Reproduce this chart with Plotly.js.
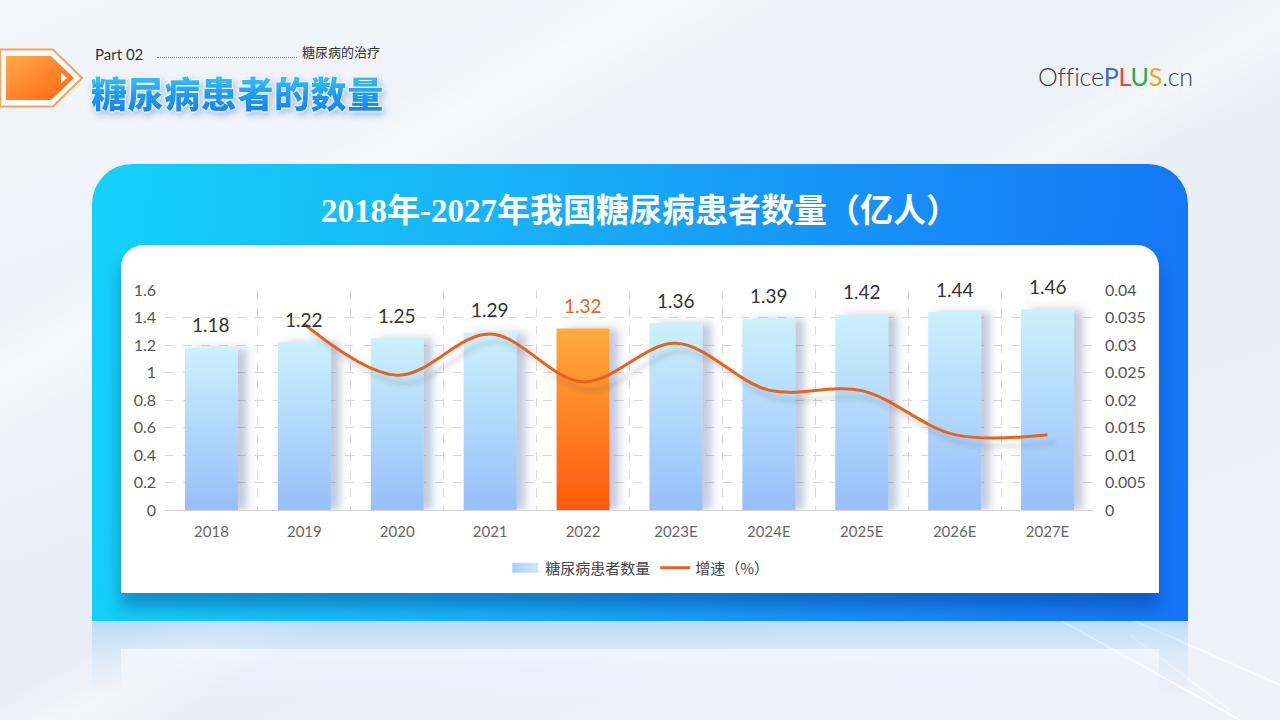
<!DOCTYPE html>
<html><head><meta charset="utf-8">
<script src="https://cdn.plot.ly/plotly-3.0.1.min.js"></script>
<style>
html,body{margin:0;padding:0;width:1280px;height:720px;overflow:hidden;}
body{position:relative;font-family:"Noto Sans CJK SC",sans-serif;
 background:
  linear-gradient(150deg, rgba(255,255,255,0) 0%, rgba(255,255,255,0) 22%, rgba(255,255,255,.55) 26%, rgba(255,255,255,0) 31%),
  linear-gradient(150deg, rgba(255,255,255,0) 0%, rgba(255,255,255,0) 48%, rgba(255,255,255,.45) 52%, rgba(255,255,255,0) 56%),
  linear-gradient(160deg, #f4f6fb 0%, #e9eef6 55%, #eef2f9 100%);}
.abs{position:absolute;}
#partTxt{left:95px;top:45px;font-family:Lato,"Noto Sans",sans-serif;font-size:15px;line-height:18px;color:#333;}
#dots{left:157px;top:57px;width:140px;border-top:1px dotted #8a8a8a;height:0;}
#subTxt{left:302px;top:44px;font-size:13px;line-height:16px;color:#333;}
#bigTitle{left:91px;top:72px;font-size:36px;font-weight:900;letter-spacing:0.6px;line-height:40px;
 background:linear-gradient(180deg,#3fcbfa 0%,#1f9cf2 55%,#1a82ec 100%);-webkit-background-clip:text;background-clip:text;color:transparent;
 filter:drop-shadow(0 0 1px #fff) drop-shadow(0 0 1px #fff) drop-shadow(2px 3px 3px rgba(20,90,170,.35));}
#logo{left:1038px;top:61px;font-family:Lato,"Noto Sans",sans-serif;font-size:25px;font-weight:300;color:#3c3c3c;letter-spacing:-0.2px;}
#blueCard{left:92px;top:164px;width:1096px;height:457px;border-radius:40px 40px 0 0;
 background:linear-gradient(95deg,#14d2f9 0%,#18b4f8 35%,#178ff7 70%,#1574f6 100%);}
#whiteCard{left:121px;top:245px;width:1038px;height:348px;border-radius:22px 22px 0 0;background:#fff;
 box-shadow:0 14px 16px rgba(0,45,120,.38);}
#reflect{left:92px;top:621px;width:1096px;height:75px;
 background:linear-gradient(180deg,rgba(30,150,245,.22) 0%,rgba(30,150,245,.08) 45%,rgba(30,150,245,0) 100%);}
#reflectW{left:121px;top:649px;width:1038px;height:50px;
 background:linear-gradient(180deg,rgba(255,255,255,.6) 0%,rgba(255,255,255,0) 100%);}
#chart{left:92px;top:164px;width:1096px;height:457px;}
</style></head>
<body>
<svg class="abs" style="left:0;top:40px" width="100" height="75" viewBox="0 40 100 75">
 <defs><linearGradient id="arrG" x1="0" y1="0" x2="1" y2="1"><stop offset="0" stop-color="#ffa94a"/><stop offset="1" stop-color="#ff6410"/></linearGradient></defs>
 <polygon points="0,49.5 53,49.5 82,78 53,106.5 0,106.5" fill="rgba(255,255,255,.6)" stroke="#f6a25e" stroke-width="2"/>
 <polygon points="6,56 51,56 74,78 51,100 6,100" fill="url(#arrG)"/>
 <polygon points="61,72.5 67,78 61,83.5" fill="#fff"/>
</svg>
<div id="partTxt" class="abs">Part 02</div>
<div id="dots" class="abs"></div>
<div id="subTxt" class="abs">糖尿病的治疗</div>
<div id="bigTitle" class="abs">糖尿病患者的数量</div>
<div id="logo" class="abs">Office<span style="color:#3a6bd6;font-weight:400">P</span><span style="color:#e2463b;font-weight:400">L</span><span style="color:#2ea64d;font-weight:400">U</span><span style="color:#f3a41d;font-weight:400">S</span>.cn</div>
<svg class="abs" style="left:1000px;top:600px" width="280" height="120">
 <path d="M60,20 L240,120" stroke="rgba(255,255,255,.8)" stroke-width="2"/>
 <path d="M110,10 L280,85" stroke="rgba(255,255,255,.7)" stroke-width="2"/>
 <path d="M130,35 L230,110" stroke="rgba(255,255,255,.5)" stroke-width="1.5"/>
</svg>
<div id="reflect" class="abs"></div>
<div id="reflectW" class="abs"></div>
<div id="blueCard" class="abs"></div>
<div id="whiteCard" class="abs"></div>
<div id="chart" class="abs"></div>
<script>
const years = ['2018','2019','2020','2021','2022','2023E','2024E','2025E','2026E','2027E'];
const patients = [1.18,1.22,1.25,1.29,1.32,1.36,1.39,1.42,1.44,1.46];
const growth = [null,0.0338,0.0245,0.032,0.0233,0.0303,0.0218,0.0217,0.0137,0.0137];
const highlightYear = '2022';
const barName = '糖尿病患者数量';
const lineName = '增速（%）';
const chartTitle = '2018年-2027年我国糖尿病患者数量（亿人）';

const numFont = 'Lato, "Noto Sans", "Noto Sans CJK SC", sans-serif';
const data = [
 {type:'bar', name:barName, x:years, y:patients, yaxis:'y',
  marker:{color:years.map(y=>y===highlightYear?'#ff7a1e':'#b4dafb'), line:{width:0}},
  hoverinfo:'skip'},
 {type:'scatter', mode:'lines', name:lineName, x:years, y:growth, yaxis:'y2',
  line:{color:'#e8621e', width:3, shape:'spline', smoothing:1}, connectgaps:false, hoverinfo:'skip'}
];
const layout = {
 width:1096, height:457,
 margin:{l:73, r:94, t:126, b:111},
 paper_bgcolor:'rgba(0,0,0,0)', plot_bgcolor:'rgba(0,0,0,0)',
 title:{text:chartTitle, font:{family:'"Liberation Serif","Noto Sans CJK SC",serif', size:33, color:'#ffffff', weight:700},
  x:0.5, xanchor:'center', xref:'container', y:1-46/457, yanchor:'middle', yref:'container'},
 bargap:0.43,
 showlegend:true,
 legend:{orientation:'h', x:0.511, xanchor:'center', y:-0.264, yanchor:'middle',
  font:{family:'"Noto Sans CJK SC", sans-serif', size:15, color:'#444'}, bgcolor:'rgba(0,0,0,0)', itemwidth:30, traceorder:'normal'},
 xaxis:{type:'category', categoryorder:'array', categoryarray:years, range:[-0.5, years.length-0.5],
  tickson:'boundaries', showgrid:true, gridcolor:'#dadada', griddash:'dash', gridwidth:1,
  showline:true, linecolor:'#d6d6d6', linewidth:1, ticks:'', zeroline:false, ticklabelstandoff:8,
  tickfont:{family:numFont, size:15, color:'#666'}, fixedrange:true},
 yaxis:{range:[0,1.6], tick0:0, dtick:0.2, showgrid:true, gridcolor:'#dadada', griddash:'dash', zeroline:false,
  showline:false, ticks:'', ticklabelstandoff:8, tickfont:{family:numFont, size:16, color:'#555'}},
 yaxis2:{range:[0,0.04], tick0:0, dtick:0.005, overlaying:'y', side:'right', showgrid:false, zeroline:false,
  showline:false, ticks:'', ticklabelstandoff:10, tickfont:{family:numFont, size:16, color:'#555'}},
 annotations: patients.map((v,i)=>({x:i, y:v, xref:'x', yref:'y', text:v.toFixed(2), showarrow:false, yshift:23,
  font:{family:numFont, size:19, color: years[i]===highlightYear?'#e8651f':'#333'}}))
};
const el = document.getElementById('chart');
Plotly.newPlot(el, data, layout, {staticPlot:true, displayModeBar:false}).then(()=>{
 const ns='http://www.w3.org/2000/svg';
 const svg = el.querySelector('svg.main-svg');
 let defs = svg.querySelector('defs');
 if(!defs){defs=document.createElementNS(ns,'defs');svg.insertBefore(defs,svg.firstChild);}
 function grad(id, stops, horiz){
  const g=document.createElementNS(ns,'linearGradient');
  g.setAttribute('id',id);g.setAttribute('x1','0');g.setAttribute('y1','0');
  g.setAttribute('x2',horiz?'1':'0');g.setAttribute('y2',horiz?'0':'1');
  stops.forEach(s=>{const st=document.createElementNS(ns,'stop');st.setAttribute('offset',s[0]);st.setAttribute('stop-color',s[1]);g.appendChild(st);});
  defs.appendChild(g);
 }
 grad('gBlue',[['0','#cbf1fc'],['1','#97bffa']]);
 grad('gOrange',[['0','#ffab3d'],['1','#ff590b']]);
 grad('gLegend',[['0','#a9cffa'],['1','#c9ecfc']],true);
 function shadow(id, dx, dy, sd, col, op, x, w){
  const f=document.createElementNS(ns,'filter');
  f.setAttribute('id',id);f.setAttribute('x',x);f.setAttribute('y','-10%');f.setAttribute('width',w);f.setAttribute('height','130%');
  const d=document.createElementNS(ns,'feDropShadow');
  d.setAttribute('dx',dx);d.setAttribute('dy',dy);d.setAttribute('stdDeviation',sd);
  d.setAttribute('flood-color',col);d.setAttribute('flood-opacity',op);
  f.appendChild(d);defs.appendChild(f);
 }
 shadow('fBar',9,0,4,'#4a5a96',0.32,'-30%','190%');
 shadow('fLine',7,8,2.5,'#404050',0.22,'-10%','125%');
 el.querySelectorAll('.barlayer .point path').forEach((p,i)=>{
  p.style.fill = years[i]===highlightYear?'url(#gOrange)':'url(#gBlue)';
  p.setAttribute('filter','url(#fBar)');
 });
 el.querySelectorAll('.scatterlayer .js-line').forEach(p=>p.setAttribute('filter','url(#fLine)'));
 const lt = el.querySelectorAll('.legend .traces');
 if(lt.length){
  lt[0].querySelectorAll('.legendpoints path').forEach(p=>{
   p.setAttribute('d','M-13,-5H13V5H-13Z'); p.style.fill='url(#gLegend)'; p.style.stroke='none';
  });
 }
});
</script>
</body></html>
